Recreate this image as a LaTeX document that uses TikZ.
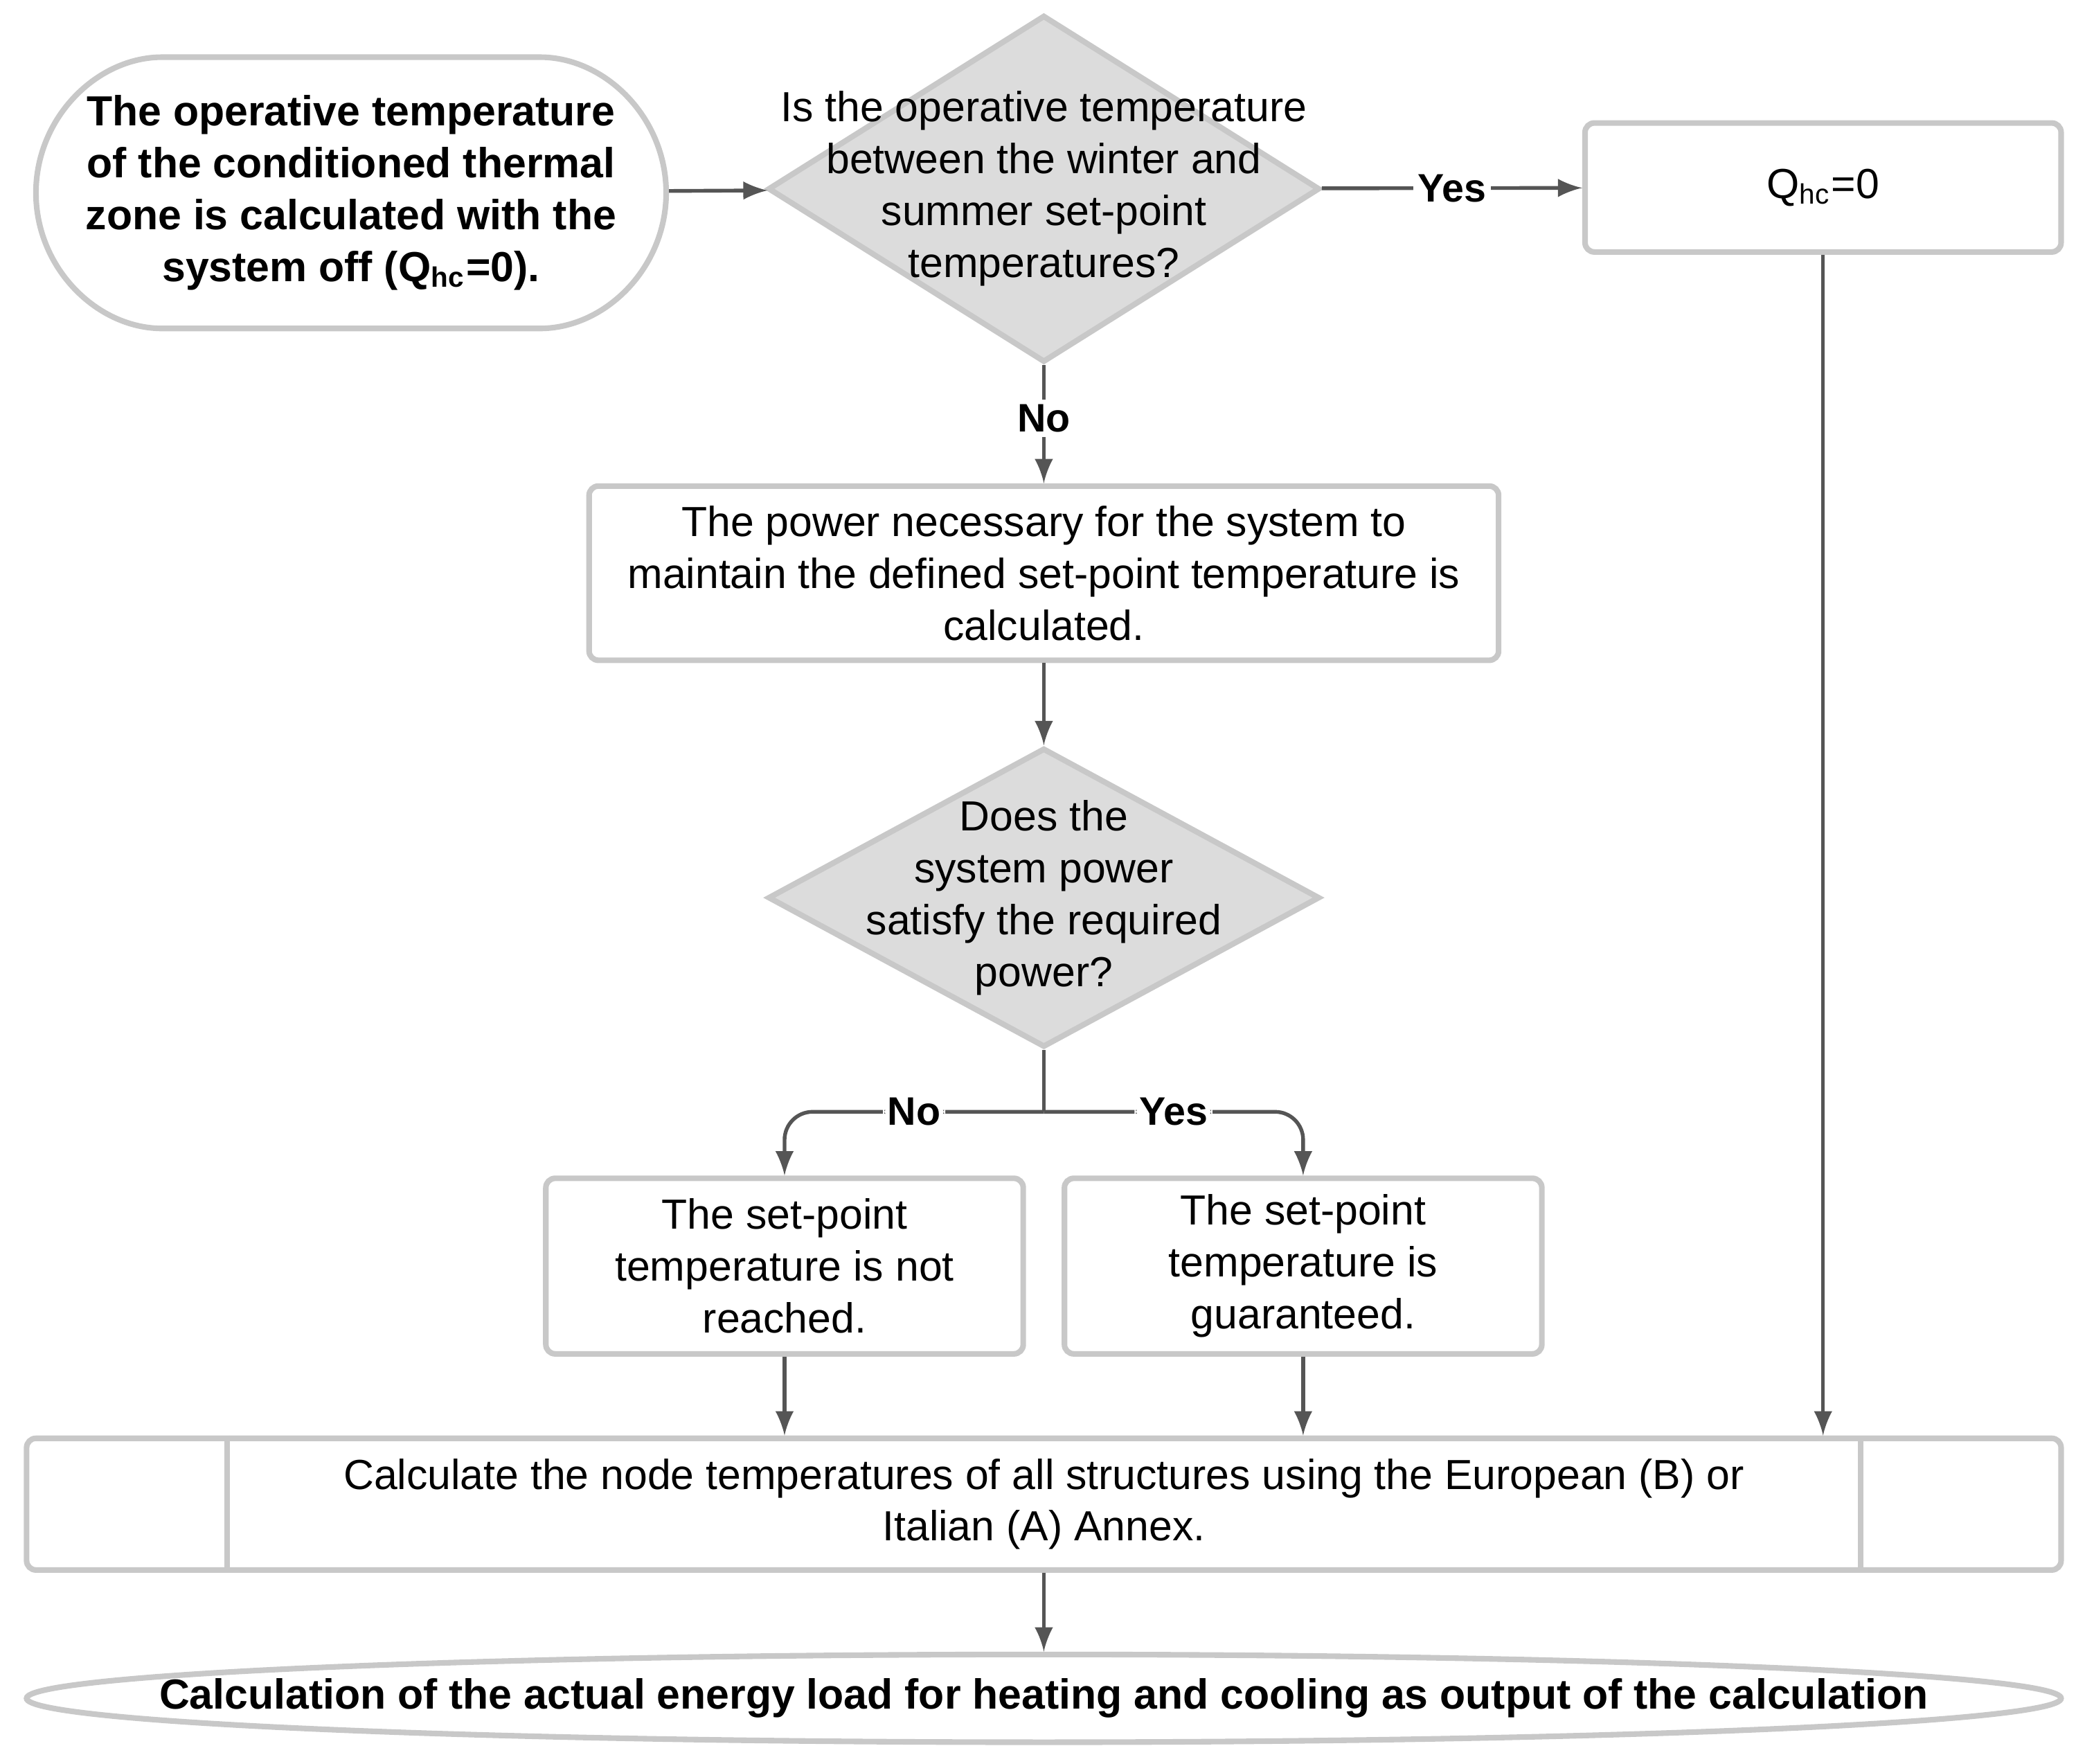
\documentclass[tikz,border=0pt]{standalone}
\usepackage{fontspec}
\setmainfont{Liberation Sans}
\usetikzlibrary{arrows, positioning, shapes.geometric, shapes.misc}
\definecolor{edgegray}{HTML}{C8C8C8}
\definecolor{fillgray}{HTML}{DCDCDC}
\definecolor{arrowgray}{HTML}{555555}
\tikzset{
    flow/.style={
      ->, %arrow type
      >=latex, %arrow head type
      draw=arrowgray,
      thick,
    },
    box/.style={draw=edgegray, very thick, rounded corners=2pt, align=center, inner sep=2pt},
    decision/.style={diamond, draw=edgegray, very thick, fill=fillgray, inner sep=0pt},
    lbl/.style={fill=white, inner sep=1pt, font=\fontsize{8.5}{11}\selectfont\bfseries},
  }

\begin{document}
\begin{tikzpicture}[font=\fontsize{9}{11.1}\selectfont, flow]
          \useasboundingbox (0,0) rectangle (15.68,13.26);
          \node[box, rounded rectangle, minimum width=4.88cm, minimum height=2.04cm,
                label={[align=center, font=\fontsize{9}{11.1}\selectfont\bfseries]center:The operative temperature\\of the conditioned thermal\\zone is calculated with the\\system off (Q\textsubscript{hc}=0).}] (start) at (2.64,11.81) {};
          \node[decision, minimum width=4.15cm, minimum height=2.61cm,
                label={[align=center]center:Is the operative temperature\\between the winter and\\summer set-point\\temperatures?}] (dec1) at (7.85,11.84) {};
          \node[box, minimum width=3.58cm, minimum height=0.97cm] (zero) at (13.71,11.85) {Q\textsubscript{hc}=0};
          \node[box, minimum width=6.84cm, minimum height=1.31cm] (power) at (7.85,8.95) {The power necessary for the system to\\maintain the defined set-point temperature is\\calculated.};
          \node[decision, minimum width=4.15cm, minimum height=2.25cm,
                label={[align=center]center:Does the\\system power\\satisfy the required\\power?}] (dec2) at (7.85,6.51) {};
          \node[box, minimum width=3.59cm, minimum height=1.32cm] (notreached) at (5.90,3.74) {The set-point\\temperature is not\\reached.};
          \node[box, minimum width=3.59cm, minimum height=1.32cm] (guaranteed) at (9.80,3.74) {The set-point\\temperature is\\guaranteed.};
          \node[box, minimum width=15.30cm, minimum height=0.99cm] (nodes) at (7.85,1.95) {Calculate the node temperatures of all structures using the European (B) or\\Italian (A) Annex.};
          \draw[edgegray, very thick, -] ([xshift=1.53cm]nodes.north west) -- ([xshift=1.53cm]nodes.south west);
          \draw[edgegray, very thick, -] ([xshift=-1.53cm]nodes.north east) -- ([xshift=-1.53cm]nodes.south east);
          \node[box, ellipse, minimum width=15.30cm, minimum height=0.66cm, inner sep=0pt,
                label={[font=\fontsize{9}{11.1}\selectfont\bfseries]center:Calculation of the actual energy load for heating and cooling as output of the calculation}] (output) at (7.85,0.49) {};

          \coordinate (split) at (7.85,4.90);
          \path
          (start) edge (dec1)
          (dec1) edge node[lbl] {Yes} (zero)
          (dec1) edge node[lbl, pos=0.45] {No} (power)
          (power) edge (dec2)
          (zero) edge (zero |- nodes.north)
          (notreached) edge (notreached |- nodes.north)
          (guaranteed) edge (guaranteed |- nodes.north)
          (nodes) edge (output);
          \draw[-, arrowgray, thick] (dec2.south) -- (split);
          \draw[rounded corners=6pt] (split) -- node[lbl, pos=0.5] {No} (split -| notreached) -- (notreached.north);
          \draw[rounded corners=6pt] (split) -- node[lbl, pos=0.5] {Yes} (split -| guaranteed) -- (guaranteed.north);
        \end{tikzpicture}
\end{document}
